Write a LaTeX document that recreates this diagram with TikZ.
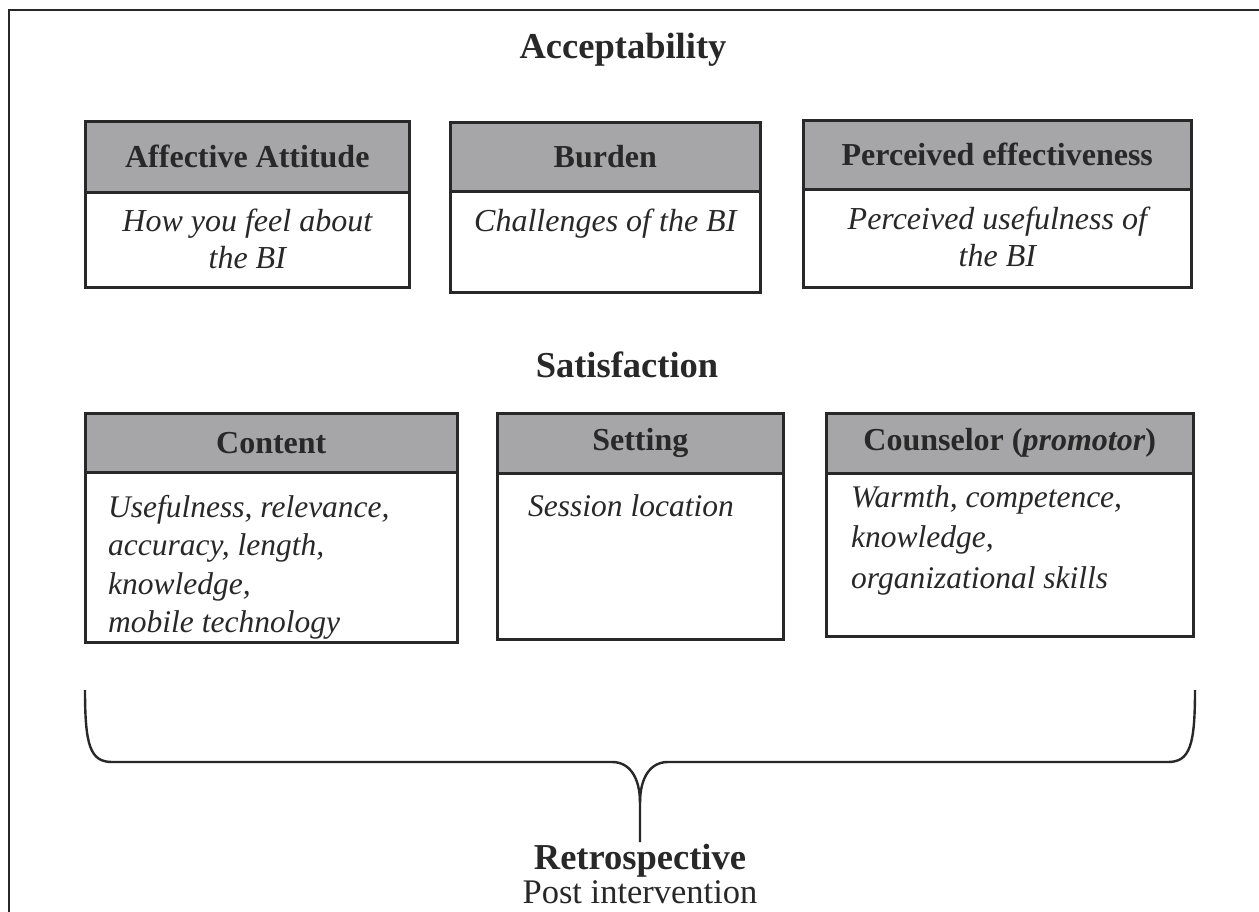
\documentclass[tikz,border=0pt]{standalone}
\usepackage{fontspec}
\setmainfont{Liberation Serif}
\definecolor{hdrgray}{RGB}{166,166,168}
\definecolor{ink}{RGB}{40,40,40}
\begin{document}
\begin{tikzpicture}[x=1pt,y=-1pt,
  boxline/.style={draw=ink, line width=2.6pt},
  hdr/.style={boxline, fill=hdrgray, anchor=north west, inner sep=0pt, text=ink,
     font=\fontsize{32}{38}\selectfont\bfseries},
  bodybox/.style={boxline, fill=white, anchor=north west, inner sep=0pt},
  ctext/.style={anchor=north, align=center, inner sep=0pt, text=ink,
     font=\fontsize{32}{37}\selectfont\itshape},
  ltext/.style={anchor=north west, align=left, inner sep=0pt, text=ink,
     font=\fontsize{31.5}{38.5}\selectfont\itshape},
  title/.style={inner sep=0pt, text=ink, font=\fontsize{36.5}{40}\selectfont\bfseries},
  brace/.style={draw=ink, line width=2.4pt, line join=round}
]
\useasboundingbox (0,0) rectangle (1259,912);
\fill[white] (0,0) rectangle (1259,912);
% frame
\draw[draw=ink, line width=2.6pt] (9,912) -- (9,10) -- (1262,10);

% titles
\node[title] (acc) at (623,50) {Acceptability};
\node[title] (sat) at (627,365) {Satisfaction};

% row 1
\node[bodybox, minimum width=324pt, minimum height=95pt] (aB) at (84,191) {};
\node[hdr, minimum width=324pt, minimum height=71pt] (aH) at (84,120) {Affective Attitude};
\node[ctext] (aT) at ([yshift=-18pt]aB.north) {How you feel about\\the BI};

\node[bodybox, minimum width=310pt, minimum height=101pt] (bB) at (449,190) {};
\node[hdr, minimum width=310pt, minimum height=69pt] (bH) at (449,121) {Burden};
\node[ctext] (bT) at ([yshift=-19pt]bB.north) {Challenges of the BI};

\node[bodybox, minimum width=388pt, minimum height=98pt] (cB) at (802,188) {};
\node[hdr, minimum width=388pt, minimum height=69pt] (cH) at (802,119) {Perceived effectiveness};
\node[ctext] (cT) at ([yshift=-19pt]cB.north) {Perceived usefulness of\\the BI};

% row 2
\node[bodybox, minimum width=372pt, minimum height=170pt] (dB) at (84,471) {};
\node[hdr, minimum width=372pt, minimum height=59pt] (dH) at (84,412) {Content};
\node[ltext] (dT) at (108,495) {Usefulness, relevance,\\accuracy, length,\\knowledge,\\mobile technology};

\node[bodybox, minimum width=286pt, minimum height=166pt] (eB) at (496,472) {};
\node[hdr, minimum width=286pt, minimum height=60pt] (eH) at (496,412) {Setting};
\node[ltext] (eT) at (528,494) {Session location};

\node[bodybox, minimum width=367pt, minimum height=163pt] (fB) at (825,472) {};
\node[hdr, minimum width=367pt, minimum height=60pt] (fH) at (825,412) {Counselor (\textit{promotor})};
\node[ltext, font=\fontsize{31.5}{40.5}\selectfont\itshape] (fT) at (851,485) {Warmth, competence,\\knowledge,\\organizational skills};

% brace
\coordinate (bl) at (85,690);
\coordinate (br) at (1195,690);
\coordinate (tip) at (640,842);
\draw[brace] (bl) .. controls (85,745) and (90,762) .. (112,762) -- (612,762)
  .. controls (630,762) and (640,778) .. (640,803) -- (tip);
\draw[brace] (640,803) .. controls (640,778) and (650,762) .. (668,762) -- (1168,762)
  .. controls (1190,762) and (1195,745) .. (br);

% bottom text
\node[title, anchor=base, font=\fontsize{36.5}{40}\selectfont\bfseries] (retro) at (640,869) {Retrospective};
\node[inner sep=0pt, anchor=base, text=ink, font=\fontsize{34.5}{40}\selectfont] (post) at (640,903) {Post intervention};
\end{tikzpicture}
\end{document}
